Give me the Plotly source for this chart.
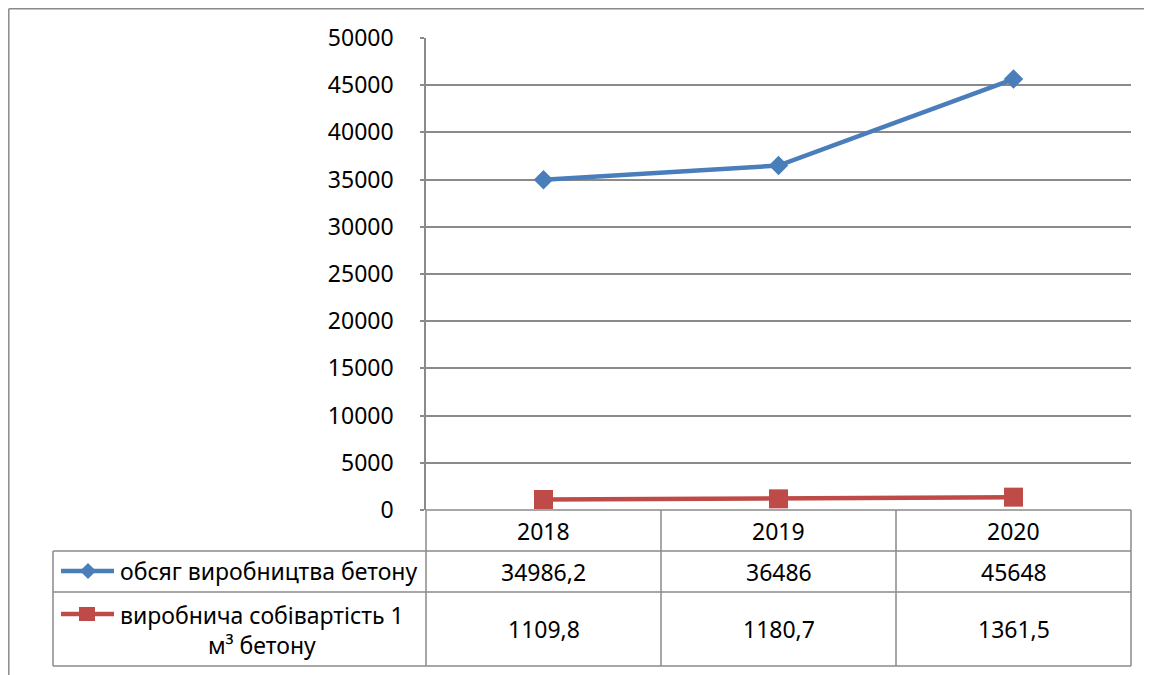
import plotly.graph_objs as go

years = ['2018', '2019', '2020']
volume = [34986.2, 36486, 45648]
cost = [1109.8, 1180.7, 1361.5]
series_names = ['обсяг виробництва бетону', 'виробнича собівартість 1<br>м³ бетону']
y_ticks = [0, 5000, 10000, 15000, 20000, 25000, 30000, 35000, 40000, 45000, 50000]

W, H = 1152, 675
OFF = 8  # page body margin
BLUE = '#4A7EBB'
RED = '#BE4B48'
GRID = '#8a8a8a'
FONT = 'Noto Sans'
FS = 23


def px(x):
    return (x - OFF) / W


def py(y):
    return 1 - (y - OFF) / H


def fmt(v):
    return ('%g' % v).replace('.', ',')


fig = go.Figure()
fig.add_trace(go.Scatter(x=years, y=volume, mode='lines+markers', name=series_names[0],
                         line=dict(color=BLUE, width=4.5),
                         marker=dict(symbol='diamond', size=15, color=BLUE)))
fig.add_trace(go.Scatter(x=years, y=cost, mode='lines+markers', name=series_names[1],
                         line=dict(color=RED, width=4.5),
                         marker=dict(symbol='square', size=19, color=RED)))

# table geometry (pixels)
left, ax_left, right = 53, 426, 1131
rows = [510, 551, 592, 666]
cols = [ax_left, 661, 896, right]

shapes = []


def hline(x0, x1, y, w=1.5):
    shapes.append(dict(type='line', xref='paper', yref='paper', x0=px(x0), x1=px(x1),
                       y0=py(y), y1=py(y), line=dict(color=GRID, width=w)))


def vline(x, y0, y1, w=1.5):
    shapes.append(dict(type='line', xref='paper', yref='paper', x0=px(x), x1=px(x),
                       y0=py(y0), y1=py(y1), line=dict(color=GRID, width=w)))


# outer frame
hline(8.8, W + OFF, 8.8)
vline(8.8, 8.8, H + OFF)

hline(ax_left, right, rows[0])
for r in rows[1:]:
    hline(left, right, r)
vline(left, rows[1], rows[3])
for c in cols:
    vline(c, rows[0], rows[3])

annotations = []
for i, yr in enumerate(years):
    cx = (cols[i] + cols[i + 1]) / 2
    annotations.append(dict(x=px(cx), y=py((rows[0] + rows[1]) / 2), text=yr))
    annotations.append(dict(x=px(cx), y=py((rows[1] + rows[2]) / 2), text=fmt(volume[i])))
    annotations.append(dict(x=px(cx), y=py((rows[2] + rows[3]) / 2), text=fmt(cost[i])))

# legend keys inside the table
key_colors = [BLUE, RED]
key_y = [571, 614]
text_y = [571, 630]
text_x = [268, 262]
for k, name in enumerate(series_names):
    ky = key_y[k]
    shapes.append(dict(type='line', xref='paper', yref='paper', x0=px(61), x1=px(114),
                       y0=py(ky), y1=py(ky), line=dict(color=key_colors[k], width=4.5)))
    if k == 0:
        path = 'M %f %f L %f %f L %f %f L %f %f Z' % (
            px(80), py(ky), px(88), py(ky - 8), px(96), py(ky), px(88), py(ky + 8))
        shapes.append(dict(type='path', xref='paper', yref='paper', path=path,
                           fillcolor=BLUE, line=dict(width=0)))
    else:
        shapes.append(dict(type='rect', xref='paper', yref='paper', x0=px(79), x1=px(95),
                           y0=py(ky - 7), y1=py(ky + 7), fillcolor=RED, line=dict(width=0)))
    annotations.append(dict(x=px(text_x[k]), y=py(text_y[k]), text=name))

for a in annotations:
    a.update(xref='paper', yref='paper', showarrow=False, xanchor='center', yanchor='middle',
             font=dict(family=FONT, size=FS, color='#000000'))

fig.update_layout(
    width=W, height=H,
    margin=dict(l=0, r=0, t=0, b=0, autoexpand=False),
    paper_bgcolor='white', plot_bgcolor='white',
    showlegend=False,
    shapes=shapes,
    annotations=annotations,
    xaxis=dict(domain=[px(ax_left), px(right)], range=[-0.5, 2.5], type='category',
               showticklabels=False, showgrid=False, zeroline=False, showline=False, ticks='',
               automargin=False),
    yaxis=dict(domain=[py(510), py(38)], range=[0, 50000], tickvals=y_ticks, tickformat='d',
               showgrid=True, gridcolor=GRID, gridwidth=1.5, zeroline=False,
               showline=True, linecolor=GRID, linewidth=1.5,
               ticks='outside', ticklen=4, tickcolor=GRID, tickwidth=1.5,
               ticklabelstandoff=22, automargin=False,
               tickfont=dict(family=FONT, size=FS, color='#000000')),
)

fig.write_html('out.html')
